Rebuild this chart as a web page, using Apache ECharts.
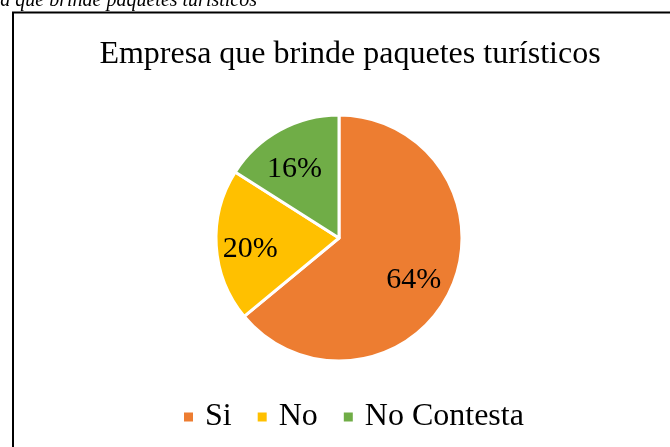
<!DOCTYPE html>
<html>
<head>
<meta charset="utf-8">
<script src="https://cdn.jsdelivr.net/npm/echarts@6/dist/echarts.min.js"></script>
<style>
  html, body { margin: 0; padding: 0; background: #fff; }
  #main { width: 670px; height: 447px; }
</style>
</head>
<body>
<div id="main"></div>
<script>
    // datos del grafico
    var categorias = ['Si', 'No', 'No Contesta'];
    var porcentajes = [64, 20, 16];
    var colores = ['#ED7D31', '#FFC000', '#70AD47'];

    var fuente = '"Liberation Serif", "Times New Roman", serif';

    var datos = [];
    var datosEtiqueta = [];
    for (var i = 0; i < categorias.length; i++) {
        datos.push({ name: categorias[i], value: porcentajes[i], itemStyle: { color: colores[i] } });
        datosEtiqueta.push({ name: categorias[i], value: porcentajes[i] });
    }

    var chart = echarts.init(document.getElementById('main'));

    var option = {
        animation: false,
        backgroundColor: '#fff',
        title: {
            text: 'Empresa que brinde paquetes turísticos',
            left: 345,
            textAlign: 'center',
            top: 34,
            textStyle: { fontFamily: fuente, fontWeight: 'normal', fontSize: 32, color: '#000' }
        },
        legend: {
            data: categorias,
            left: 177,
            top: 396,
            icon: 'rect',
            itemWidth: 11,
            itemHeight: 11,
            itemGap: 24,
            textStyle: { fontFamily: fuente, fontSize: 32, color: '#000', padding: [0, 0, 0, 6] }
        },
        graphic: [
            {
                type: 'rect',
                shape: { x: 13, y: 12.5, width: 720, height: 480 },
                style: { fill: 'none', stroke: '#000', lineWidth: 2 },
                silent: true
            },
            {
                type: 'text',
                x: 257,
                y: 11,
                style: {
                    text: 'Empresa que brinde paquetes turísticos',
                    font: 'italic 20px ' + fuente,
                    fill: '#000',
                    textAlign: 'right',
                    textVerticalAlign: 'bottom'
                },
                silent: true
            }
        ],
        series: [
            {
                name: 'Empresa',
                type: 'pie',
                center: [339, 238],
                radius: [0, 123],
                startAngle: 90,
                clockwise: true,
                itemStyle: { borderColor: '#fff', borderWidth: 3 },
                label: { show: false },
                labelLine: { show: false },
                data: datos
            },
            {
                // serie transparente solo para ubicar las etiquetas
                name: 'Etiquetas',
                type: 'pie',
                center: [339, 238],
                radius: [0, 166],
                startAngle: 90,
                clockwise: true,
                silent: true,
                z: 5,
                itemStyle: { color: 'rgba(0,0,0,0)', borderWidth: 0 },
                label: {
                    show: true,
                    position: 'inside',
                    formatter: '{c}%',
                    fontFamily: fuente,
                    fontSize: 30,
                    color: '#000',
                    offset: [-3, 6]
                },
                labelLine: { show: false },
                emphasis: { disabled: true },
                data: datosEtiqueta
            }
        ]
    };

    chart.setOption(option);
</script>
</body>
</html>
